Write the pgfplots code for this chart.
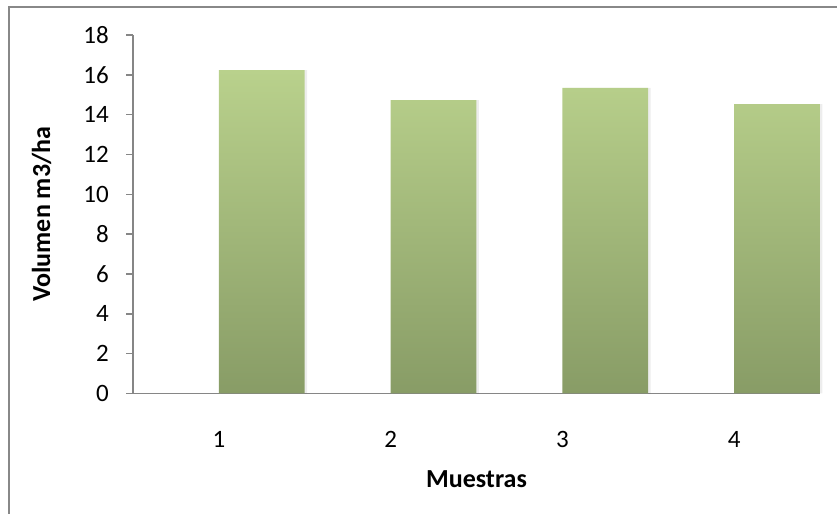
\documentclass[border=0pt]{standalone}
\usepackage{fontspec}
\setmainfont{Carlito}
\usepackage{pgfplots}
\pgfplotsset{compat=1.18}
\definecolor{barTop}{RGB}{185,209,140}
\definecolor{barBot}{RGB}{136,156,102}
\definecolor{axgray}{RGB}{134,134,134}
\definecolor{framegray}{RGB}{136,136,136}
\begin{document}
\begin{tikzpicture}[x=1bp,y=1bp]
\useasboundingbox (0,0) rectangle (837,514);
\draw[framegray, line width=2bp] (9,-30) rectangle (870,507);
\begin{axis}[
  at={(133bp,120.5bp)}, anchor=south west, scale only axis,
  width=687bp, height=358.5bp,
  xmin=0.5, xmax=4.5, ymin=0, ymax=18,
  xtick={1,2,3,4}, ytick={0,2,...,18},
  axis x line*=bottom, axis y line*=left,
  axis line style={axgray, line width=1.5bp, -},
  tick align=outside,
  major tick length=7bp,
  ytick style={axgray, line width=1.5bp},
  xtick style={draw=none},
  /pgf/number format/assume math mode=true,
  tick label style={font=\fontsize{25bp}{30bp}\selectfont, inner sep=0pt},
  xticklabel style={anchor=north, yshift=-31bp},
  yticklabel style={anchor=east, xshift=-17bp},
  xlabel={Muestras},
  ylabel={Volumen m3/ha},
  xlabel style={font=\fontsize{26bp}{30bp}\selectfont\bfseries, at={(axis description cs:0.5,-0.240)}, anchor=center, inner sep=0pt},
  ylabel style={font=\fontsize{26bp}{30bp}\selectfont\bfseries, at={(axis description cs:-0.133,0.5)}, anchor=center, inner sep=0pt},
  clip=false,
]
\addplot[ybar, bar width=85.9bp, bar shift=45.4bp, draw=none, fill=black, fill opacity=0.07]
  coordinates {(1,16.24) (2,14.73) (3,15.34) (4,14.53)};
\addplot[ybar, bar width=85.9bp, bar shift=42.9bp, draw=none, top color=barTop, bottom color=barBot]
  coordinates {(1,16.24) (2,14.73) (3,15.34) (4,14.53)};
\end{axis}
\end{tikzpicture}
\end{document}
